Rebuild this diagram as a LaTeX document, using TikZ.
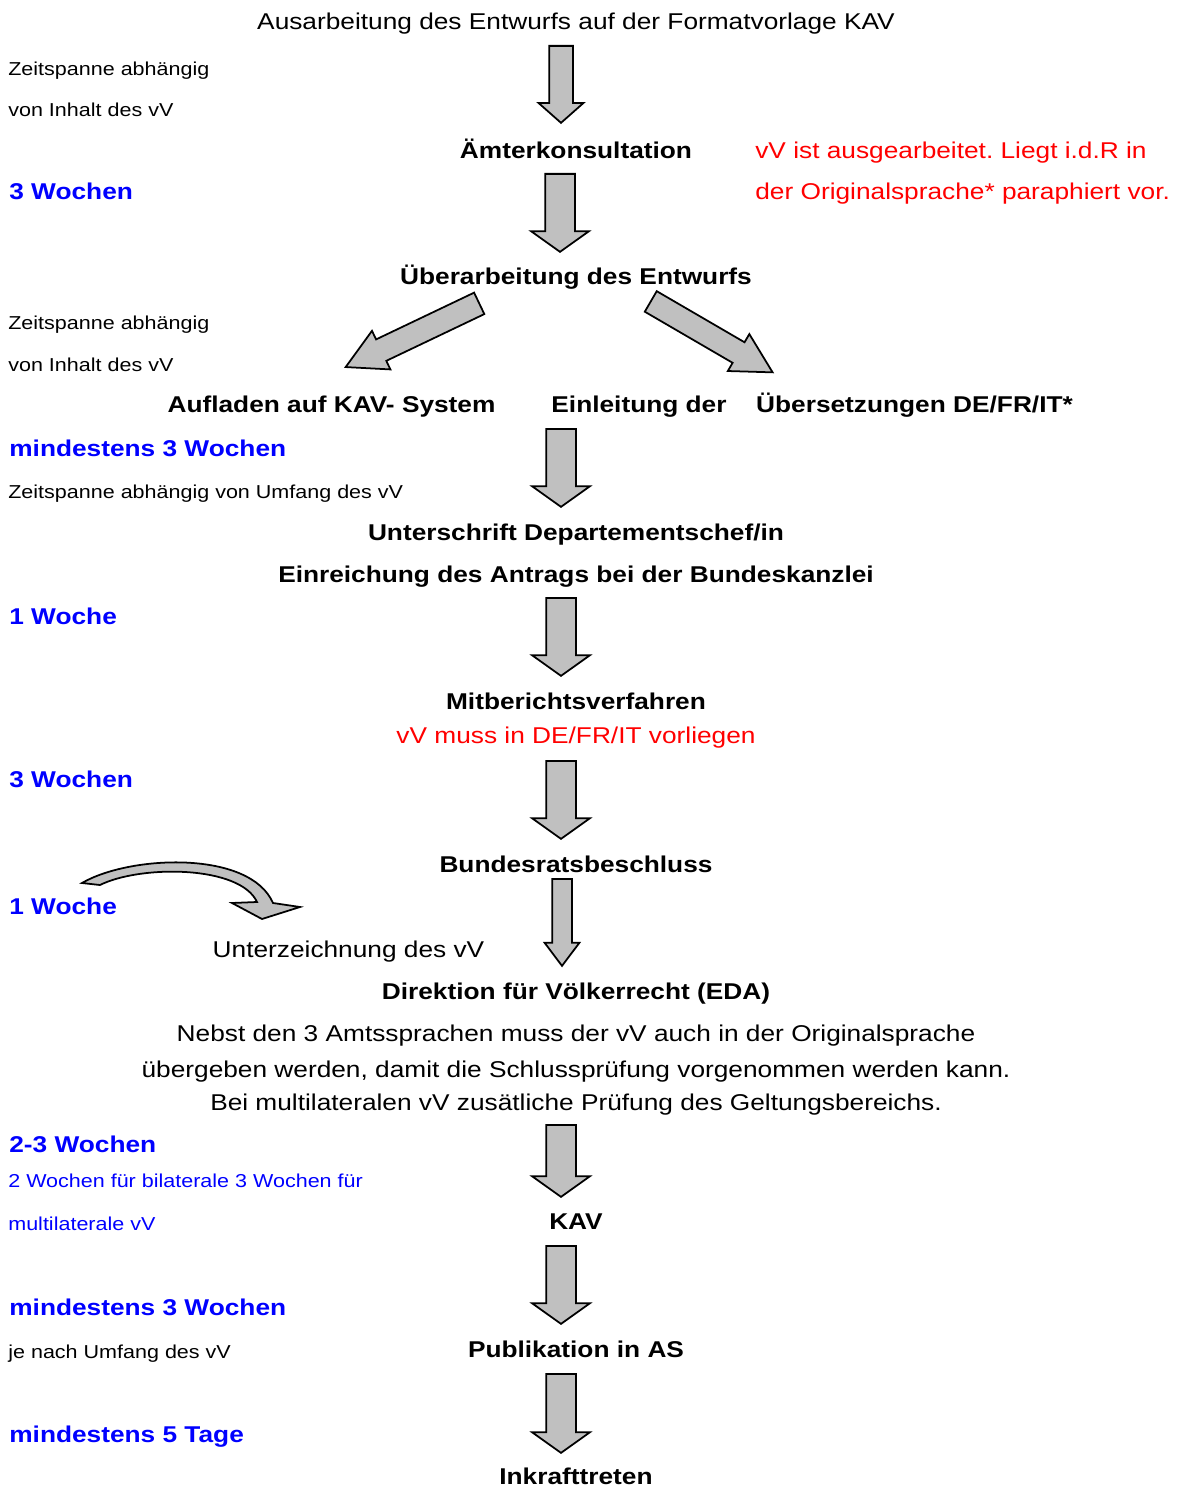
\documentclass[tikz,border=0pt]{standalone}
\usepackage{fontspec}
\setmainfont{Liberation Sans}[FakeStretch=1.15]
\usetikzlibrary{shapes.arrows}
\frenchspacing
\definecolor{arrowgray}{HTML}{C0C0C0}
\newcommand{\bigfont}{\fontsize{13}{15.6}\selectfont}
\newcommand{\smallfont}{\fontsize{10.65}{12.8}\selectfont}
\tikzset{
  stage/.style={font=\bigfont\bfseries, anchor=base, inner sep=0pt},
  plain/.style={font=\bigfont, anchor=base, inner sep=0pt},
  remark/.style={font=\bigfont, text=red, anchor=base west, inner sep=0pt},
  dur/.style={font=\bigfont\bfseries, text=blue, anchor=base west, inner sep=0pt},
  durnote/.style={font=\smallfont, text=blue, anchor=base west, inner sep=0pt},
  note/.style={font=\smallfont, anchor=base west, inner sep=0pt},
  blockarrow/.style={single arrow, draw=black, fill=arrowgray, line width=1pt,
    inner xsep=0pt, anchor=tail},
  downarrow/.style={blockarrow, rotate=-90, minimum height=1.56cm, inner ysep=0.28cm,
    single arrow head extend=0.28cm, single arrow tip angle=109},
}
\begin{document}
\begin{tikzpicture}[x=0.02cm, y=-0.02cm]
  \useasboundingbox (0,0) rectangle (1178,1486);
  % main column
  \node[plain] (draft) at (576,29.5) {Ausarbeitung des Entwurfs auf der Formatvorlage KAV};
  \node[stage] (amt) at (576,159) {Ämterkonsultation};
  \node[stage] (rev) at (576,285) {Überarbeitung des Entwurfs};
  \node[stage] (upl) at (331.5,413) {Aufladen auf KAV- System};
  \node[stage] (einl) at (639,413) {Einleitung der};
  \node[stage] (uebs) at (914.5,413) {Übersetzungen DE/FR/IT*};
  \node[stage] (sign) at (576,540) {Unterschrift Departementschef/in};
  \node[stage] (bk) at (576,582) {Einreichung des Antrags bei der Bundeskanzlei};
  \node[stage] (mbv) at (576,709) {Mitberichtsverfahren};
  \node[plain, text=red] (lang) at (576,743) {vV muss in DE/FR/IT vorliegen};
  \node[stage] (brb) at (576,872) {Bundesratsbeschluss};
  \node[plain] (unt) at (348.5,957) {Unterzeichnung des vV};
  \node[stage] (dv) at (576,999) {Direktion für Völkerrecht (EDA)};
  \node[plain] (dv1) at (576,1041) {Nebst den 3 Amtssprachen muss der vV auch in der Originalsprache};
  \node[plain] (dv2) at (576,1077) {übergeben werden, damit die Schlussprüfung vorgenommen werden kann.};
  \node[plain] (dv3) at (576,1110) {Bei multilateralen vV zusätliche Prüfung des Geltungsbereichs.};
  \node[stage] (kav) at (576,1229) {KAV};
  \node[stage] (as) at (576,1357) {Publikation in AS};
  \node[stage] (ikt) at (576,1484) {Inkrafttreten};
  % red remark
  \node[remark] (rem1) at (755,159) {vV ist ausgearbeitet. Liegt i.d.R in};
  \node[remark] (rem2) at (755,200) {der Originalsprache* paraphiert vor.};
  % durations on the left
  \node[note] (t1a) at (8,76) {Zeitspanne abhängig};
  \node[note] (t1b) at (8,117) {von Inhalt des vV};
  \node[dur] (d1) at (9,200) {3 Wochen};
  \node[note] (t2a) at (8,330) {Zeitspanne abhängig};
  \node[note] (t2b) at (8,372) {von Inhalt des vV};
  \node[dur] (d2) at (9,456) {mindestens 3 Wochen};
  \node[note] (t3) at (8,498) {Zeitspanne abhängig von Umfang des vV};
  \node[dur] (d3) at (9,624) {1 Woche};
  \node[dur] (d4) at (9,787) {3 Wochen};
  \node[dur] (d5) at (9,914) {1 Woche};
  \node[dur] (d6) at (9,1152) {2-3 Wochen};
  \node[durnote] (d6a) at (8,1187) {2 Wochen für bilaterale 3 Wochen für};
  \node[durnote] (d6b) at (8,1230) {multilaterale vV};
  \node[dur] (d7) at (9,1315) {mindestens 3 Wochen};
  \node[note] (t7) at (8,1358) {je nach Umfang des vV};
  \node[dur] (d8) at (9,1442) {mindestens 5 Tage};
  % block arrows
  \node[downarrow, minimum height=1.54cm, inner ysep=0.22cm,
    single arrow head extend=0.21cm, single arrow tip angle=97] (a1) at (561,45) {};
  \node[downarrow] (a2) at (560,173) {};
  \node[blockarrow, rotate=205.5, minimum height=2.96cm, inner ysep=0.22cm,
    single arrow head extend=0.19cm, single arrow tip angle=57] (al) at (480,303) {};
  \node[blockarrow, rotate=-30.2, minimum height=2.82cm, inner ysep=0.22cm,
    single arrow head extend=0.19cm, single arrow tip angle=57] (ar) at (650,301) {};
  \node[downarrow] (a3) at (561,428) {};
  \node[downarrow] (a4) at (561,597) {};
  \node[downarrow] (a5) at (561,760) {};
  \node[downarrow, minimum height=1.74cm, inner ysep=0.18cm,
    single arrow head extend=0.15cm, single arrow tip angle=74] (a6) at (562,878) {};
  \node[downarrow, minimum height=1.44cm] (a7) at (561,1124) {};
  \node[downarrow] (a8) at (561,1245) {};
  \node[downarrow, minimum height=1.58cm] (a9) at (561,1373) {};
  % curved arrow
  \draw[line width=1pt, fill=arrowgray] (82,883) .. controls (130,855) and (250,850) .. (273,903)
    -- (300,907) -- (262,919) -- (232,903) -- (257,902)
    .. controls (240,865) and (140,865) .. (100,885) -- cycle;
\end{tikzpicture}
\end{document}
